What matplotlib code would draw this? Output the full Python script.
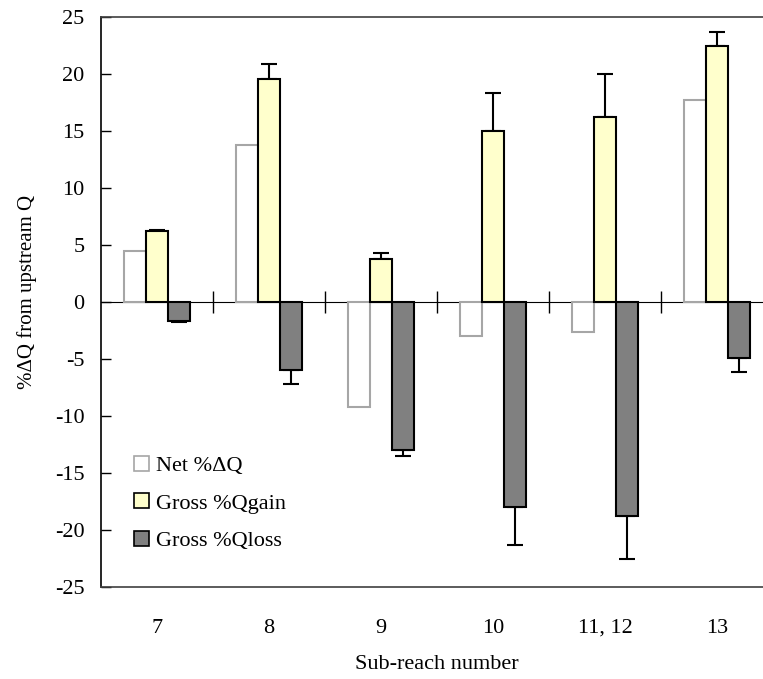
import numpy as np
import matplotlib
matplotlib.use("Agg")
import matplotlib.pyplot as plt
from matplotlib.patches import Patch

plt.rcParams['font.family'] = ['Liberation Serif', 'DejaVu Serif']
plt.rcParams['font.size'] = 16
plt.rcParams['axes.unicode_minus'] = False

# sub-reach data (% of upstream discharge)
reaches = ['7', '8', '9', '10', '11, 12', '13']
net_dq = [4.5, 13.8, -9.2, -3.0, -2.6, 17.7]
gross_gain = [6.2, 19.6, 3.8, 15.0, 16.2, 22.5]
gain_err = [0.15, 1.3, 0.5, 3.3, 3.8, 1.2]
gross_loss = [-1.7, -6.0, -13.0, -18.0, -18.8, -4.9]
loss_err = [0.05, 1.2, 0.5, 3.3, 3.7, 1.2]

x = np.arange(len(reaches))
w = 0.196

fig = plt.figure(figsize=(7.63, 6.79), dpi=100)
ax = fig.add_axes([101 / 763, 92 / 679, 672 / 763, 570 / 679])

ax.bar(x - w, net_dq, w, color='white', edgecolor='#a6a6a6', linewidth=1.5, zorder=2)
ax.bar(x, gross_gain, w, color='#ffffcc', edgecolor='black', linewidth=1.5, zorder=2)
ax.bar(x + w, gross_loss, w, color='#808080', edgecolor='black', linewidth=1.5, zorder=2)

# one-sided error bars, pointing away from zero
ax.errorbar(x, gross_gain, yerr=[np.zeros(len(x)), gain_err], fmt='none',
            ecolor='black', elinewidth=1.5, capsize=6, capthick=1.5, zorder=1)
ax.errorbar(x + w, gross_loss, yerr=[loss_err, np.zeros(len(x))], fmt='none',
            ecolor='black', elinewidth=1.5, capsize=6, capthick=1.5, zorder=1)

ax.set_xlim(-0.5, len(reaches) - 0.5)
ax.set_ylim(-25, 25)
ax.set_yticks(np.arange(-25, 26, 5))
ax.tick_params(axis='y', direction='in', length=7, width=1, pad=12, colors='black')
ax.set_xticks(x)
ax.set_xticklabels(reaches)
ax.tick_params(axis='x', length=0, pad=23)

ax.spines['right'].set_visible(False)
ax.spines['top'].set_color('#404040')
ax.spines['left'].set_color('black')
ax.spines['bottom'].set_color('#404040')
for s in ax.spines.values():
    s.set_linewidth(1.2)

# zero line with category separators
zero = ax.secondary_xaxis(0.5)
zero.spines['bottom'].set_color('#808080')
zero.spines['bottom'].set_linewidth(1.5)
zero.set_xticks(np.arange(0.5, len(reaches) - 0.5, 1.0))
zero.set_xticklabels([])
zero.tick_params(direction='inout', length=16, width=1, color='black')

ax.set_ylabel('%ΔQ from upstream Q', fontsize=15)
ax.yaxis.set_label_coords(-0.095, 0.517)
ax.set_xlabel('Sub-reach number', labelpad=12)

handles = [
    Patch(facecolor='white', edgecolor='#a6a6a6', linewidth=1.2, label='Net %ΔQ'),
    Patch(facecolor='#ffffcc', edgecolor='black', linewidth=1.2, label='Gross %Qgain'),
    Patch(facecolor='#808080', edgecolor='black', linewidth=1.2, label='Gross %Qloss'),
]
ax.legend(handles=handles, loc='upper left', bbox_to_anchor=(123 / 763, 1 - 445 / 679),
          bbox_transform=fig.transFigure, frameon=False, borderpad=0,
          handlelength=0.65, handleheight=0.65, handletextpad=0.35, labelspacing=0.77)

fig.savefig('out.png', dpi=100)
